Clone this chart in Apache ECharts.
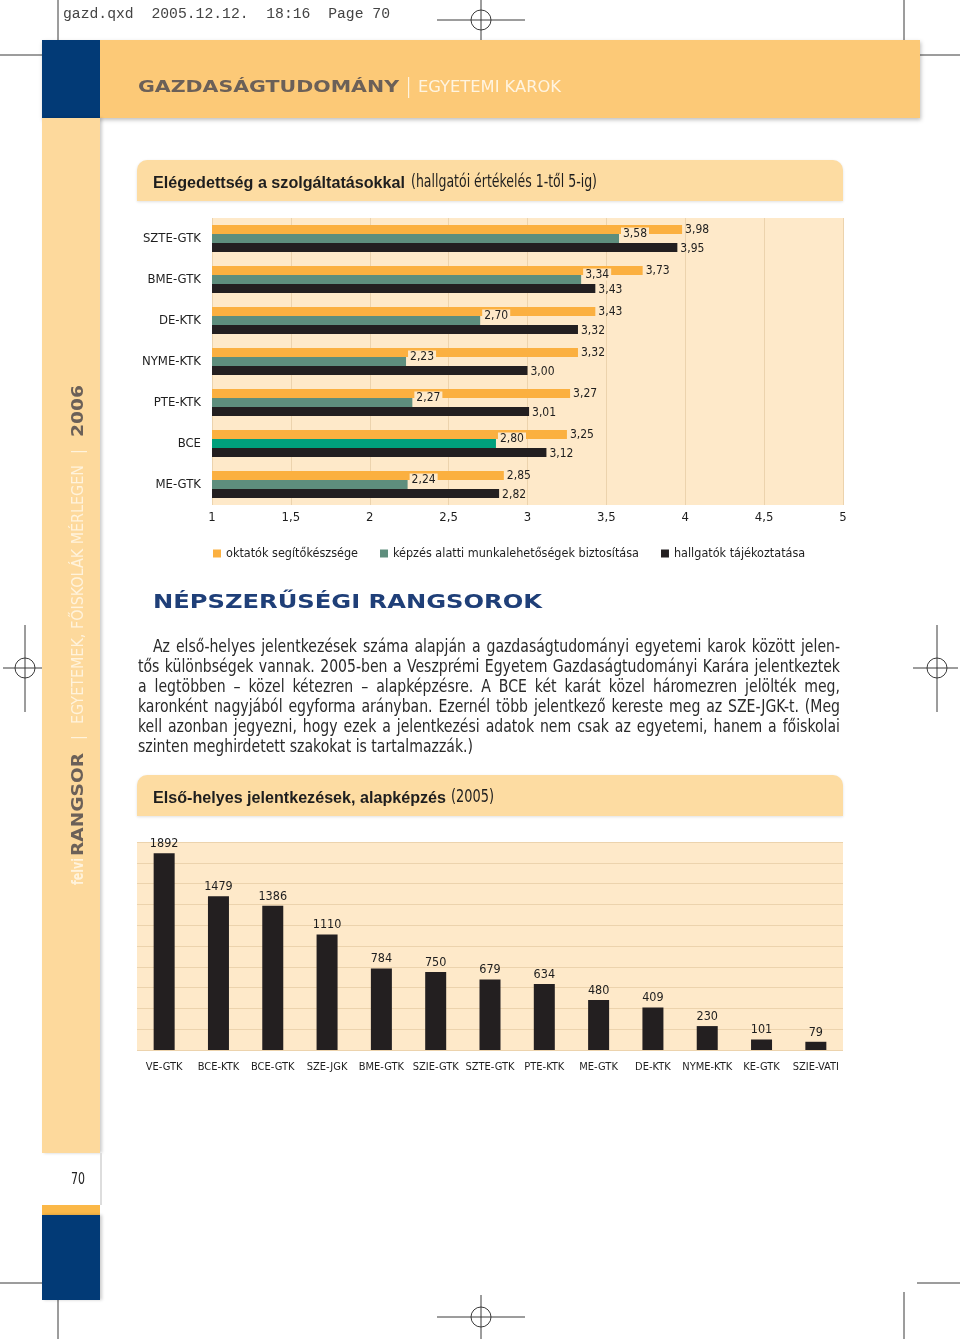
<!DOCTYPE html>
<html><head><meta charset="utf-8">
<script src="https://cdn.jsdelivr.net/npm/echarts@6/dist/echarts.min.js"></script>
<style>html,body{margin:0;padding:0;background:#fff}#c{width:960px;height:1339px}</style>
</head><body><div id="c"></div>
<script>
// ---------- DATA ----------
const satCategories = ['SZTE-GTK','BME-GTK','DE-KTK','NYME-KTK','PTE-KTK','BCE','ME-GTK'];
const satSeriesNames = ['oktatók segítőkészsége','képzés alatti munkalehetőségek biztosítása','hallgatók tájékoztatása'];
const oktatok = [3.98,3.73,3.43,3.32,3.27,3.25,2.85];
const munka   = [3.58,3.34,2.70,2.23,2.27,2.80,2.24];
const tajek   = [3.95,3.43,3.32,3.00,3.01,3.12,2.82];
const satTicks = [1,1.5,2,2.5,3,3.5,4,4.5,5];

const appCategories = ['VE-GTK','BCE-KTK','BCE-GTK','SZE-JGK','BME-GTK','SZIE-GTK','SZTE-GTK','PTE-KTK','ME-GTK','DE-KTK','NYME-KTK','KE-GTK','SZIE-VATI'];
const appValues = [1892,1479,1386,1110,784,750,679,634,480,409,230,101,79];

const paraLines = [
 'Az első-helyes jelentkezések száma alapján a gazdaságtudományi egyetemi karok között jelen-',
 'tős különbségek vannak. 2005-ben a Veszprémi Egyetem Gazdaságtudományi Karára jelentkeztek',
 'a legtöbben – közel kétezren – alapképzésre. A BCE két karát közel háromezren jelölték meg,',
 'karonként nagyjából egyforma arányban. Ezernél több jelentkező kereste meg az SZE-JGK-t. (Meg',
 'kell azonban jegyezni, hogy ezek a jelentkezési adatok nem csak az egyetemi, hanem a főiskolai',
 'szinten meghirdetett szakokat is tartalmazzák.)'
];

// ---------- helpers ----------
const NARROW = '"Liberation Sans Narrow", "DejaVu Sans Condensed", "Liberation Sans", sans-serif';
const SANS = '"Liberation Sans", Arial, sans-serif';
const HEAVY = '"DejaVu Sans", sans-serif';
const MONO = '"Liberation Mono", "DejaVu Sans Mono", monospace';
const mctx = document.createElement('canvas').getContext('2d');
function measure(text, size, family, weight){ mctx.font = (weight||'normal') + ' ' + size + 'px ' + family; return mctx.measureText(text).width; }
function fitText(text, x, y, targetW, size, family, weight, color, extra){
  const w = measure(text, size, family, weight);
  return Object.assign({type:'text', x:x, y:y, scaleX: targetW / w, silent:true,
    style:{text:text, fontSize:size, fontFamily:family, fontWeight:weight||'normal', fill:color, align:'left', verticalAlign:'middle'}}, extra||{});
}
const fmt2 = v => v.toFixed(2).replace('.', ',');

const G = [];
const LINE = '#3a3a3a';
function line(x1,y1,x2,y2){ G.push({type:'line', silent:true, shape:{x1,y1,x2,y2}, style:{stroke:LINE, lineWidth:1}}); }
function reg(cx,cy){ G.push({type:'circle', silent:true, shape:{cx,cy,r:10}, style:{stroke:LINE, fill:null, lineWidth:1}}); }

// crop / registration marks
G.push(fitText('gazd.qxd  2005.12.12.  18:16  Page 70', 63, 14, 327, 14, MONO, 'normal', '#444'));
line(58,0,58,40); line(904,0,904,42);
line(0,55,42,55); line(917,55,960,55);
line(437,20,525,20); line(481,0,481,40); reg(481,20);
line(3,668,47,668); line(25,625,25,712); reg(25,668);
line(913,668,958,668); line(937,625,937,712); reg(937,668);
line(0,1283,42,1283); line(917,1283,960,1283);
line(58,1300,58,1339); line(904,1292,904,1339);
line(437,1317,525,1317); line(481,1295,481,1339); reg(481,1317);

// header band
G.push({type:'rect', silent:true, shape:{x:42,y:40,width:878,height:78}, style:{fill:'#fcc977', shadowBlur:4, shadowOffsetY:2, shadowOffsetX:1, shadowColor:'rgba(0,0,0,0.25)'}});
G.push({type:'rect', silent:true, shape:{x:42,y:40,width:58,height:78}, style:{fill:'#023a76'}});
// sidebar
G.push({type:'rect', silent:true, shape:{x:42,y:118,width:58,height:1035}, style:{fill:'#fdd99c', shadowBlur:3, shadowOffsetX:2, shadowColor:'rgba(0,0,0,0.2)'}});
G.push({type:'rect', silent:true, shape:{x:100,y:1153,width:2,height:52}, style:{fill:'#dddddd'}});
G.push({type:'rect', silent:true, shape:{x:42,y:1205,width:58,height:10}, style:{fill:'#fbb848'}});
G.push({type:'rect', silent:true, shape:{x:42,y:1215,width:58,height:85}, style:{fill:'#023a76', shadowBlur:3, shadowOffsetX:2, shadowColor:'rgba(0,0,0,0.2)'}});
G.push(fitText('70', 71, 1180, 14, 15, NARROW, 'normal', '#222'));

// header text
G.push(fitText('GAZDASÁGTUDOMÁNY', 138, 88, 261, 16, HEAVY, 'bold', '#6b6058'));
G.push({type:'rect', silent:true, shape:{x:408,y:77,width:1.2,height:21}, style:{fill:'#fff4e0'}});
G.push(fitText('EGYETEMI KAROK', 418, 88, 143, 16, NARROW, 'normal', '#fff4e0'));

// sidebar rotated text (bottom to top)
const rot = {rotation: Math.PI/2};
G.push(fitText('felvi', 79, 885, 27, 15, HEAVY, 'bold', '#fff3dc', rot));
G.push(fitText('RANGSOR', 79, 856, 103, 16, HEAVY, 'bold', '#6b6058', rot));
G.push({type:'rect', silent:true, shape:{x:71,y:737,width:16,height:1.2}, style:{fill:'#fff3dc'}});
G.push(fitText('EGYETEMEK, FŐISKOLÁK MÉRLEGEN', 79, 724, 259, 16, NARROW, 'normal', '#fff3dc', rot));
G.push({type:'rect', silent:true, shape:{x:71,y:451,width:16,height:1.2}, style:{fill:'#fff3dc'}});
G.push(fitText('2006', 79, 437, 52, 16, HEAVY, 'bold', '#6b6058', rot));

// title boxes
function titleBox(y){ G.push({type:'rect', silent:true, shape:{x:137,y:y,width:706,height:41,r:[10,10,0,0]}, style:{fill:'#fddca2', shadowBlur:3, shadowOffsetY:1, shadowColor:'rgba(0,0,0,0.12)'}}); }
titleBox(160); titleBox(775);
G.push(fitText('Elégedettség a szolgáltatásokkal', 153, 183, 252, 17, SANS, 'bold', '#1e1e1e'));
G.push(fitText('(hallgatói értékelés 1-től 5-ig)', 411, 183, 186, 17, NARROW, 'normal', '#1e1e1e'));
G.push(fitText('Első-helyes jelentkezések, alapképzés', 153, 798, 293, 17, SANS, 'bold', '#1e1e1e'));
G.push(fitText('(2005)', 451, 798, 43, 17, NARROW, 'normal', '#1e1e1e'));

// section heading
G.push(fitText('NÉPSZERŰSÉGI RANGSOROK', 153, 603, 389, 19, HEAVY, 'bold', '#1f3f78'));

// justified paragraph
(function(){
  const size = 17, fam = NARROW, col = '#2a2a2a';
  const last = paraLines[paraLines.length-1];
  const s = 335 / measure(last, size, fam);
  paraLines.forEach((ln, i) => {
    const y = 648 + 20*i;
    const x0 = i === 0 ? 153 : 138;
    if (i === paraLines.length - 1) {
      G.push({type:'text', x:x0, y:y, scaleX:s, silent:true, style:{text:ln, fontSize:size, fontFamily:fam, fill:col, verticalAlign:'middle'}});
      return;
    }
    const words = ln.split(' ');
    const ws = words.map(w => measure(w, size, fam) * s);
    const tot = ws.reduce((a,b)=>a+b,0);
    const gap = (840 - x0 - tot) / (words.length - 1);
    let x = x0;
    words.forEach((w, k) => {
      G.push({type:'text', x:x, y:y, scaleX:s, silent:true, style:{text:w, fontSize:size, fontFamily:fam, fill:col, verticalAlign:'middle'}});
      x += ws[k] + gap;
    });
  });
})();

// ---------- chart ----------
const chart = echarts.init(document.getElementById('c'), null, {renderer:'canvas'});
const GRIDC = '#ecd3ad';
const labelBase = {fontSize:12, fontFamily:NARROW, color:'#1e1e1e'};
chart.setOption({
  animation:false,
  backgroundColor:'#ffffff',
  textStyle:{fontFamily:NARROW},
  graphic: G,
  legend:{data:satSeriesNames, left:208, top:542, icon:'rect', itemWidth:8, itemHeight:8, itemGap:22, selectedMode:false,
          textStyle:{fontSize:12.5, fontFamily:NARROW, color:'#1e1e1e'}},
  grid:[
    {left:212, top:218, width:631, height:287, show:true, backgroundColor:'#fee9c9', borderWidth:0},
    {left:137, top:842, width:706, height:208, show:true, backgroundColor:'#fee9c9', borderWidth:0}
  ],
  xAxis:[
    {gridIndex:0, type:'value', min:satTicks[0], max:satTicks[satTicks.length-1], interval:satTicks[1]-satTicks[0],
     axisLine:{show:false}, axisTick:{show:false}, splitLine:{show:true, lineStyle:{color:GRIDC}},
     axisLabel:{fontSize:13, fontFamily:NARROW, color:'#1e1e1e', margin:6, formatter: v => String(v).replace('.', ',')}},
    {gridIndex:1, type:'category', data:appCategories, axisLine:{show:false}, axisTick:{show:false},
     axisLabel:{interval:0, fontSize:11, fontFamily:NARROW, color:'#1e1e1e', margin:12}}
  ],
  yAxis:[
    {gridIndex:0, type:'category', data:satCategories, inverse:true, axisLine:{show:false}, axisTick:{show:false},
     axisLabel:{fontSize:13, fontFamily:NARROW, color:'#1e1e1e', margin:11}},
    {gridIndex:1, type:'value', min:0, max:2000, interval:200, axisLine:{show:false}, axisTick:{show:false},
     axisLabel:{show:false}, splitLine:{show:true, lineStyle:{color:GRIDC}}}
  ],
  series:[
    {type:'bar', name:satSeriesNames[0], xAxisIndex:0, yAxisIndex:0, data:oktatok, barWidth:9, barGap:'0%',
     itemStyle:{color:'#fbb040'}, z:2,
     label:Object.assign({show:true, position:'right', distance:3, formatter:p=>fmt2(p.value)}, labelBase)},
    {type:'bar', name:satSeriesNames[1], xAxisIndex:0, yAxisIndex:0, barWidth:9, barGap:'0%', z:4,
     data:munka.map((v,i)=> satCategories[i]==='BCE' ? {value:v, itemStyle:{color:'#00a07c'}} : v),
     itemStyle:{color:'#5e8e7d'},
     label:Object.assign({show:true, position:'right', distance:2, offset:[0,-5], backgroundColor:'#fee9c9', padding:[0,2,0,2], formatter:p=>fmt2(p.value)}, labelBase)},
    {type:'bar', name:satSeriesNames[2], xAxisIndex:0, yAxisIndex:0, data:tajek, barWidth:9, barGap:'0%',
     itemStyle:{color:'#231f20'}, z:3,
     label:Object.assign({show:true, position:'right', distance:3, offset:[0,1], formatter:p=>fmt2(p.value)}, labelBase)},
    {type:'bar', name:'Első-helyes jelentkezések', xAxisIndex:1, yAxisIndex:1, data:appValues, barWidth:21,
     itemStyle:{color:'#231f20'},
     label:{show:true, position:'top', distance:3, fontSize:12.5, fontFamily:NARROW, color:'#1e1e1e'}}
  ]
});
</script></body></html>
